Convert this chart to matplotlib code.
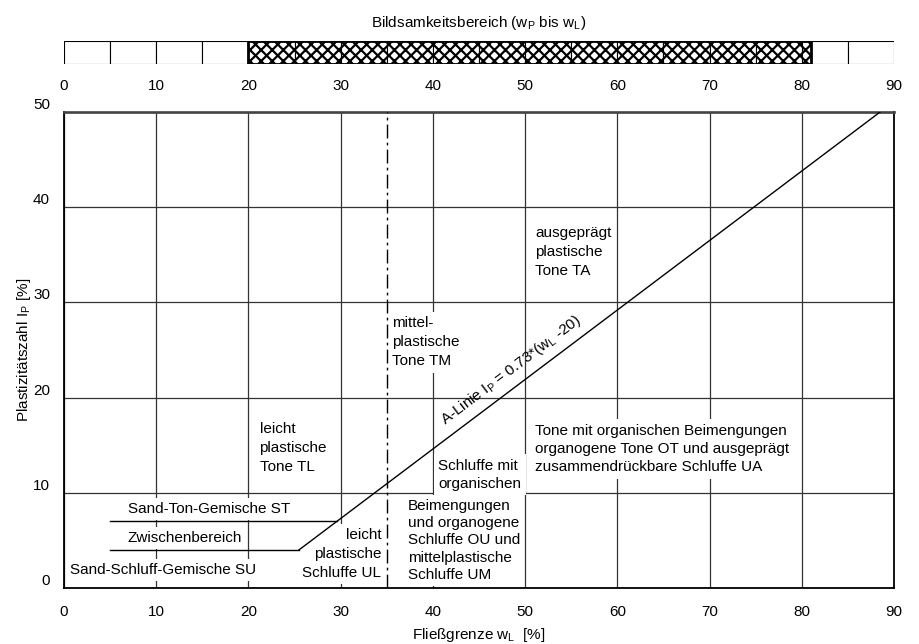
import numpy as np
import matplotlib
matplotlib.use("Agg")
import matplotlib.pyplot as plt

plt.rcParams["font.family"] = ["Liberation Sans", "DejaVu Sans"]
plt.rcParams["hatch.linewidth"] = 1.6
plt.rcParams["mathtext.default"] = "regular"

# Axis ticks
x_ticks = [0, 10, 20, 30, 40, 50, 60, 70, 80, 90]
y_ticks = [0, 10, 20, 30, 40, 50]

# Plasticity range bar (w_P to w_L)
bar_cells = [0, 5, 10, 15, 20, 25, 30, 35, 40, 45, 50, 55, 60, 65, 70, 75, 80, 85]
cell_width = 5
plastic_from = 20
plastic_to = 81

# A-line: I_P = 0.73 * (w_L - 20)
a_slope = 0.73
a_offset = 20

# Limits of the sand mixtures zone
st_limit = 7      # Sand-Ton-Gemische above
su_limit = 4      # Sand-Schluff-Gemische below
band_start = 5
wl_medium = 35    # boundary between low and medium plasticity

FS = 11.0

fig = plt.figure(figsize=(9.19, 6.44), dpi=100)

# ---- Top bar -------------------------------------------------------------
bax = fig.add_axes([64 / 919, 1 - 64 / 644, 830 / 919, 23.5 / 644])
bax.bar(bar_cells, 1, width=cell_width, align="edge", facecolor="white",
        edgecolor="black", linewidth=0.8)
bax.bar([plastic_from], 1, width=plastic_to - plastic_from, align="edge",
        fill=False, hatch="xxx", edgecolor="black", linewidth=2.0)
bax.set_xlim(0, 90)
bax.set_ylim(0, 1)
bax.set_xticks(x_ticks)
bax.set_yticks([])
bax.tick_params(axis="x", length=0, pad=11, labelsize=FS)
for s in bax.spines.values():
    s.set_visible(False)
bax.set_title(r"Bildsamkeitsbereich ($\mathregular{w_P}$ bis $\mathregular{w_L}$)",
              fontsize=FS, pad=10)

# ---- Plasticity chart ----------------------------------------------------
ax = fig.add_axes([64 / 919, 1 - 588 / 644, 830 / 919, 476 / 644])
ax.set_xlim(0, 90)
ax.set_ylim(0, 50)
ax.set_xticks(x_ticks)
ax.set_yticks(y_ticks)
ax.tick_params(axis="both", length=0, labelsize=FS)
ax.tick_params(axis="x", pad=12)
ax.tick_params(axis="y", pad=10)
for lbl in ax.get_yticklabels():
    lbl.set_verticalalignment("bottom")
ax.set_axisbelow(True)
ax.grid(True, color="#333333", linewidth=0.9)
for name, s in ax.spines.items():
    s.set_linewidth(1.3)
    s.set_color("black")
ax.spines["top"].set_linewidth(1.9)
ax.spines["top"].set_color("#444444")

ax.set_xlabel(r"Fließgrenze $\mathregular{w_L}$  [%]", fontsize=FS, labelpad=5)
ax.set_ylabel(r"Plastizitätszahl $\mathregular{I_P}$ [%]", fontsize=FS, labelpad=0)

# A-line from the SU limit up to the top of the chart
w_a = np.array([a_offset + su_limit / a_slope, a_offset + 50 / a_slope])
ax.plot(w_a, a_slope * (w_a - a_offset), color="black", lw=1.0, zorder=4)

# Zone limits in the sand mixture area
ax.plot([band_start, a_offset + st_limit / a_slope], [st_limit, st_limit],
        color="black", lw=1.0, zorder=4)
ax.plot([band_start, a_offset + su_limit / a_slope], [su_limit, su_limit],
        color="black", lw=1.0, zorder=4)

# Low / medium plasticity boundary
ax.plot([wl_medium, wl_medium], [0, 50], color="black", lw=1.0,
        linestyle=(0, (10, 3, 2, 3)), zorder=4)

box = dict(facecolor="white", edgecolor="none", pad=3)

def label(x, y, s, ha="left", ls=1.46):
    ax.text(x, y, s, ha=ha, va="center", fontsize=FS, linespacing=ls,
            bbox=box, zorder=3)

label(6.9, 8.3, "Sand-Ton-Gemische ST")
label(6.9, 5.25, "Zwischenbereich")
label(0.65, 1.9, "Sand-Schluff-Gemische SU")
label(34.4, 3.6, "leicht\nplastische\nSchluffe UL", ha="right")
label(21.2, 14.7, "leicht\nplastische\nTone TL")
label(35.6, 25.8, "mittel-\nplastische\nTone TM")
label(51.1, 35.3, "ausgeprägt\nplastische\nTone TA")
label(51.1, 14.6, "Tone mit organischen Beimengungen\n"
                  "organogene Tone OT und ausgeprägt\n"
                  "zusammendrückbare Schluffe UA", ls=1.4)
label(40.6, 11.9, "Schluffe mit\norganischen", ls=1.4)
label(37.3, 5.0, "Beimengungen\nund organogene\nSchluffe OU und\n"
                 "mittelplastische\nSchluffe UM", ls=1.3)

ax.text(48.5, 22.9, r"A-Linie $\mathregular{I_P}$ = 0.73*($\mathregular{w_L}$ -20)",
        ha="center", va="center", fontsize=FS,
        rotation=np.degrees(np.arctan(a_slope)), rotation_mode="anchor",
        transform_rotates_text=True, zorder=4)

fig.savefig("out.png", dpi=100)
